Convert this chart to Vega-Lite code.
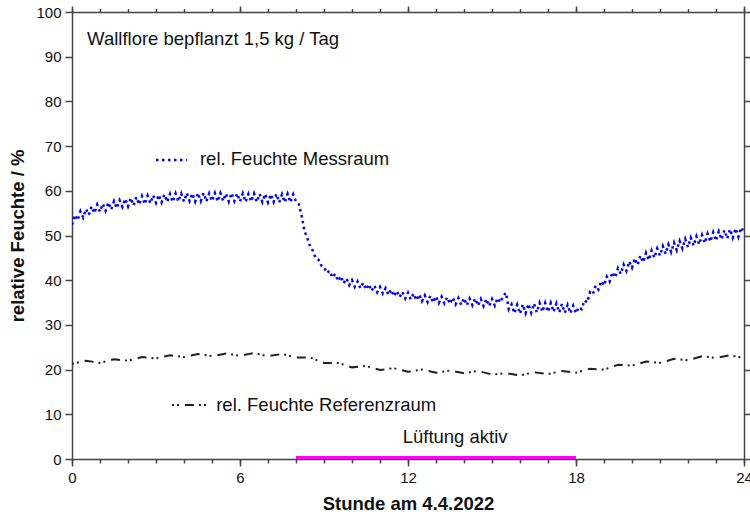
{
  "$schema": "https://vega.github.io/schema/vega-lite/v6.json",
  "width": 672,
  "height": 447,
  "autosize": "none",
  "padding": {"left": 72, "top": 12, "right": 6, "bottom": 55},
  "background": "white",
  "config": {
    "view": {"stroke": null},
    "font": "Liberation Sans",
    "axis": {"grid": false, "domainColor": "#444", "domainWidth": 1.5, "tickColor": "#444", "tickWidth": 1.5, "labelFont": "Liberation Sans", "titleFont": "Liberation Sans", "labelColor": "#111", "titleColor": "#111"}
  },
  "datasets": {
    "mess": [
      {"h":0.0,"rh":52.4},{"h":0.1,"rh":54.6},{"h":0.2,"rh":53.4},{"h":0.3,"rh":55.4},{"h":0.4,"rh":54.0},{"h":0.5,"rh":55.9},{"h":0.6,"rh":54.6},{"h":0.7,"rh":56.5},{"h":0.8,"rh":55.0},{"h":0.9,"rh":56.9},
      {"h":1.0,"rh":55.3},{"h":1.1,"rh":57.1},{"h":1.2,"rh":55.5},{"h":1.3,"rh":57.4},{"h":1.4,"rh":55.8},{"h":1.5,"rh":57.7},{"h":1.6,"rh":56.1},{"h":1.7,"rh":57.9},{"h":1.8,"rh":56.4},{"h":1.9,"rh":58.2},
      {"h":2.0,"rh":56.5},{"h":2.1,"rh":58.4},{"h":2.2,"rh":56.7},{"h":2.3,"rh":58.6},{"h":2.4,"rh":56.9},{"h":2.5,"rh":58.8},{"h":2.6,"rh":57.0},{"h":2.7,"rh":58.9},{"h":2.8,"rh":57.2},{"h":2.9,"rh":59.0},
      {"h":3.0,"rh":57.3},{"h":3.1,"rh":59.1},{"h":3.2,"rh":57.4},{"h":3.3,"rh":59.2},{"h":3.4,"rh":57.5},{"h":3.5,"rh":59.3},{"h":3.6,"rh":57.5},{"h":3.7,"rh":59.4},{"h":3.8,"rh":57.6},{"h":3.9,"rh":59.4},
      {"h":4.0,"rh":57.6},{"h":4.1,"rh":59.5},{"h":4.2,"rh":57.7},{"h":4.3,"rh":59.4},{"h":4.4,"rh":57.6},{"h":4.5,"rh":59.5},{"h":4.6,"rh":57.7},{"h":4.7,"rh":59.5},{"h":4.8,"rh":57.6},{"h":4.9,"rh":59.4},
      {"h":5.0,"rh":57.7},{"h":5.1,"rh":59.5},{"h":5.2,"rh":57.6},{"h":5.3,"rh":59.5},{"h":5.4,"rh":57.7},{"h":5.5,"rh":59.4},{"h":5.6,"rh":57.6},{"h":5.7,"rh":59.5},{"h":5.8,"rh":57.7},{"h":5.9,"rh":59.4},
      {"h":6.0,"rh":57.6},{"h":6.1,"rh":59.4},{"h":6.2,"rh":57.5},{"h":6.3,"rh":59.3},{"h":6.4,"rh":57.6},{"h":6.5,"rh":59.4},{"h":6.6,"rh":57.5},{"h":6.7,"rh":59.3},{"h":6.8,"rh":57.5},{"h":6.9,"rh":59.3},
      {"h":7.0,"rh":57.4},{"h":7.1,"rh":59.2},{"h":7.2,"rh":57.5},{"h":7.3,"rh":59.3},{"h":7.4,"rh":57.4},{"h":7.5,"rh":59.2},{"h":7.6,"rh":57.4},{"h":7.7,"rh":59.3},{"h":7.8,"rh":57.4},{"h":7.9,"rh":59.2},
      {"h":8.0,"rh":57.6},{"h":8.1,"rh":57.0},{"h":8.2,"rh":54.5},{"h":8.3,"rh":51.0},{"h":8.4,"rh":49.5},{"h":8.5,"rh":47.6},{"h":8.6,"rh":46.6},{"h":8.7,"rh":45.0},{"h":8.8,"rh":44.6},{"h":8.9,"rh":43.3},
      {"h":9.0,"rh":43.0},{"h":9.1,"rh":41.6},{"h":9.2,"rh":42.1},{"h":9.3,"rh":40.6},{"h":9.4,"rh":41.4},{"h":9.5,"rh":39.8},{"h":9.6,"rh":40.9},{"h":9.7,"rh":39.3},{"h":9.8,"rh":40.4},{"h":9.9,"rh":38.9},
      {"h":10.0,"rh":40.0},{"h":10.1,"rh":38.5},{"h":10.2,"rh":39.7},{"h":10.3,"rh":38.2},{"h":10.4,"rh":39.4},{"h":10.5,"rh":37.9},{"h":10.6,"rh":39.1},{"h":10.7,"rh":37.6},{"h":10.8,"rh":38.8},{"h":10.9,"rh":37.3},
      {"h":11.0,"rh":38.5},{"h":11.1,"rh":37.0},{"h":11.2,"rh":38.2},{"h":11.3,"rh":36.7},{"h":11.4,"rh":37.9},{"h":11.5,"rh":36.4},{"h":11.6,"rh":37.6},{"h":11.7,"rh":36.2},{"h":11.8,"rh":37.4},{"h":11.9,"rh":35.9},
      {"h":12.0,"rh":37.2},{"h":12.1,"rh":35.7},{"h":12.2,"rh":37.0},{"h":12.3,"rh":35.5},{"h":12.4,"rh":36.8},{"h":12.5,"rh":35.3},{"h":12.6,"rh":36.6},{"h":12.7,"rh":35.1},{"h":12.8,"rh":36.5},{"h":12.9,"rh":35.0},
      {"h":13.0,"rh":36.4},{"h":13.1,"rh":34.9},{"h":13.2,"rh":36.3},{"h":13.3,"rh":34.8},{"h":13.4,"rh":36.2},{"h":13.5,"rh":34.7},{"h":13.6,"rh":36.1},{"h":13.7,"rh":34.6},{"h":13.8,"rh":36.0},{"h":13.9,"rh":34.5},
      {"h":14.0,"rh":36.0},{"h":14.1,"rh":34.4},{"h":14.2,"rh":35.9},{"h":14.3,"rh":34.4},{"h":14.4,"rh":35.9},{"h":14.5,"rh":34.3},{"h":14.6,"rh":35.8},{"h":14.7,"rh":34.2},{"h":14.8,"rh":35.8},{"h":14.9,"rh":34.2},
      {"h":15.0,"rh":35.8},{"h":15.1,"rh":34.3},{"h":15.2,"rh":36.0},{"h":15.3,"rh":35.0},{"h":15.4,"rh":36.5},{"h":15.5,"rh":37.2},{"h":15.6,"rh":33.5},{"h":15.7,"rh":34.6},{"h":15.8,"rh":32.6},{"h":15.9,"rh":34.5},
      {"h":16.0,"rh":32.5},{"h":16.1,"rh":34.6},{"h":16.2,"rh":32.6},{"h":16.3,"rh":34.7},{"h":16.4,"rh":32.7},{"h":16.5,"rh":34.8},{"h":16.6,"rh":32.8},{"h":16.7,"rh":34.9},{"h":16.8,"rh":32.9},{"h":16.9,"rh":34.9},
      {"h":17.0,"rh":32.9},{"h":17.1,"rh":34.9},{"h":17.2,"rh":32.9},{"h":17.3,"rh":34.8},{"h":17.4,"rh":32.8},{"h":17.5,"rh":34.7},{"h":17.6,"rh":32.7},{"h":17.7,"rh":34.5},{"h":17.8,"rh":32.6},{"h":17.9,"rh":34.3},
      {"h":18.0,"rh":32.6},{"h":18.1,"rh":34.0},{"h":18.2,"rh":33.5},{"h":18.3,"rh":35.5},{"h":18.4,"rh":35.0},{"h":18.5,"rh":37.3},{"h":18.6,"rh":36.8},{"h":18.7,"rh":38.8},{"h":18.8,"rh":37.9},{"h":18.9,"rh":39.8},
      {"h":19.0,"rh":38.8},{"h":19.1,"rh":40.8},{"h":19.2,"rh":39.7},{"h":19.3,"rh":41.8},{"h":19.4,"rh":40.6},{"h":19.5,"rh":42.7},{"h":19.6,"rh":41.4},{"h":19.7,"rh":43.5},{"h":19.8,"rh":42.1},{"h":19.9,"rh":44.2},
      {"h":20.0,"rh":42.8},{"h":20.1,"rh":44.9},{"h":20.2,"rh":43.4},{"h":20.3,"rh":45.5},{"h":20.4,"rh":44.0},{"h":20.5,"rh":46.1},{"h":20.6,"rh":44.5},{"h":20.7,"rh":46.6},{"h":20.8,"rh":45.0},{"h":20.9,"rh":47.1},
      {"h":21.0,"rh":45.5},{"h":21.1,"rh":47.6},{"h":21.2,"rh":45.9},{"h":21.3,"rh":48.0},{"h":21.4,"rh":46.3},{"h":21.5,"rh":48.4},{"h":21.6,"rh":46.7},{"h":21.7,"rh":48.8},{"h":21.8,"rh":47.1},{"h":21.9,"rh":49.2},
      {"h":22.0,"rh":47.4},{"h":22.1,"rh":49.5},{"h":22.2,"rh":47.7},{"h":22.3,"rh":49.8},{"h":22.4,"rh":48.0},{"h":22.5,"rh":50.1},{"h":22.6,"rh":48.3},{"h":22.7,"rh":50.4},{"h":22.8,"rh":48.6},{"h":22.9,"rh":50.7},
      {"h":23.0,"rh":48.8},{"h":23.1,"rh":50.9},{"h":23.2,"rh":49.1},{"h":23.3,"rh":51.2},{"h":23.4,"rh":49.3},{"h":23.5,"rh":51.4},{"h":23.6,"rh":49.5},{"h":23.7,"rh":51.6},{"h":23.8,"rh":49.7},{"h":23.9,"rh":51.8},
      {"h":24.0,"rh":50.6}
    ],
    "ref": [
      {"h":0,"rh":21.3},{"h":0.5,"rh":22.0},{"h":1.0,"rh":21.5},{"h":1.5,"rh":22.3},{"h":2.0,"rh":22.0},{"h":2.5,"rh":22.8},{"h":3.0,"rh":22.5},{"h":3.5,"rh":23.2},{"h":4.0,"rh":22.8},{"h":4.5,"rh":23.5},
      {"h":5.0,"rh":23.0},{"h":5.5,"rh":23.6},{"h":6.0,"rh":23.1},{"h":6.5,"rh":23.7},{"h":7.0,"rh":23.0},{"h":7.5,"rh":23.5},{"h":8.0,"rh":22.7},{"h":8.5,"rh":22.7},{"h":9.0,"rh":21.5},{"h":9.5,"rh":21.5},
      {"h":10.0,"rh":20.5},{"h":10.5,"rh":20.8},{"h":11.0,"rh":19.9},{"h":11.5,"rh":20.3},{"h":12.0,"rh":19.5},{"h":12.5,"rh":20.0},{"h":13.0,"rh":19.3},{"h":13.5,"rh":19.8},{"h":14.0,"rh":19.2},{"h":14.5,"rh":19.7},
      {"h":15.0,"rh":18.9},{"h":15.5,"rh":19.2},{"h":16.0,"rh":18.7},{"h":16.5,"rh":19.4},{"h":17.0,"rh":19.0},{"h":17.5,"rh":19.7},{"h":18.0,"rh":19.3},{"h":18.5,"rh":20.2},{"h":19.0,"rh":20.0},{"h":19.5,"rh":21.1},
      {"h":20.0,"rh":20.9},{"h":20.5,"rh":21.8},{"h":21.0,"rh":21.5},{"h":21.5,"rh":22.4},{"h":22.0,"rh":22.1},{"h":22.5,"rh":23.0},{"h":23.0,"rh":22.6},{"h":23.5,"rh":23.2},{"h":24.0,"rh":22.6}
    ],
    "legm": [{"h":3.0,"rh":66.9},{"h":4.1,"rh":66.9}],
    "legr": [{"h":3.57,"rh":12.1},{"h":4.82,"rh":12.1}],
    "vent": [{"start":8,"end":18,"rh":0.35}],
    "labels": [
      {"h":0.54,"rh":94.0,"label":"Wallflore bepflanzt 1,5 kg / Tag"},
      {"h":4.57,"rh":67.1,"label":"rel. Feuchte Messraum"},
      {"h":5.15,"rh":12.1,"label":"rel. Feuchte Referenzraum"},
      {"h":11.81,"rh":4.9,"label":"Lüftung aktiv"}
    ]
  },
  "resolve": {"axis": {"x": "independent", "y": "independent"}},
  "layer": [
    {
      "data": {"name": "mess"},
      "mark": {"type": "line", "color": "#0000ff", "strokeWidth": 2.5, "strokeDash": [2.5, 3.5], "clip": true},
      "encoding": {
        "x": {"field": "h", "type": "quantitative", "scale": {"domain": [0, 24], "nice": false, "zero": false},
          "axis": {"orient": "bottom", "values": [0, 6, 12, 18, 24], "tickSize": 7, "labelFontSize": 15, "labelPadding": 4, "labelFlush": false, "title": "Stunde am 4.4.2022", "titleFontSize": 18.5, "titleFontWeight": "bold", "titlePadding": 9}},
        "y": {"field": "rh", "type": "quantitative", "scale": {"domain": [0, 100], "nice": false},
          "axis": {"orient": "left", "values": [0, 10, 20, 30, 40, 50, 60, 70, 80, 90, 100], "tickSize": 7, "labelFontSize": 15, "labelPadding": 4, "labelFlush": false, "title": "relative Feuchte / %", "titleFontSize": 18.5, "titleFontWeight": "bold", "titlePadding": 8}}
      }
    },
    {
      "data": {"name": "ref"},
      "mark": {"type": "line", "color": "#222222", "strokeWidth": 2, "strokeDash": [2, 3, 2, 6, 9, 5]},
      "encoding": {
        "x": {"field": "h", "type": "quantitative",
          "axis": {"orient": "bottom", "values": [0,1,2,3,4,5,6,7,8,9,10,11,12,13,14,15,16,17,18,19,20,21,22,23,24], "tickSize": 4, "labels": false, "domain": false, "title": null}},
        "y": {"field": "rh", "type": "quantitative",
          "axis": {"orient": "right", "values": [0, 10, 20, 30, 40, 50, 60, 70, 80, 90, 100], "tickSize": 6, "labels": false, "title": null}}
      }
    },
    {
      "data": {"name": "legm"},
      "mark": {"type": "line", "color": "#0000ff", "strokeWidth": 2.5, "strokeDash": [2.5, 3.5]},
      "encoding": {
        "x": {"field": "h", "type": "quantitative",
          "axis": {"orient": "top", "values": [0, 6, 12, 18, 24], "tickSize": 6, "labels": false, "title": null}},
        "y": {"field": "rh", "type": "quantitative", "axis": null}
      }
    },
    {
      "data": {"name": "legr"},
      "mark": {"type": "line", "color": "#222222", "strokeWidth": 2, "strokeDash": [2, 3, 2, 6, 9, 5]},
      "encoding": {
        "x": {"field": "h", "type": "quantitative",
          "axis": {"orient": "top", "values": [0,1,2,3,4,5,6,7,8,9,10,11,12,13,14,15,16,17,18,19,20,21,22,23,24], "tickSize": 3.5, "labels": false, "domain": false, "title": null}},
        "y": {"field": "rh", "type": "quantitative", "axis": null}
      }
    },
    {
      "data": {"name": "vent"},
      "mark": {"type": "rule", "color": "#ff00ff", "strokeWidth": 3},
      "encoding": {
        "x": {"field": "start", "type": "quantitative", "axis": null},
        "x2": {"field": "end"},
        "y": {"field": "rh", "type": "quantitative", "axis": null}
      }
    },
    {
      "data": {"name": "labels"},
      "mark": {"type": "text", "align": "left", "baseline": "middle", "fontSize": 18.5, "font": "Liberation Sans", "color": "#111111"},
      "encoding": {
        "x": {"field": "h", "type": "quantitative", "axis": null},
        "y": {"field": "rh", "type": "quantitative", "axis": null},
        "text": {"field": "label"}
      }
    }
  ]
}
